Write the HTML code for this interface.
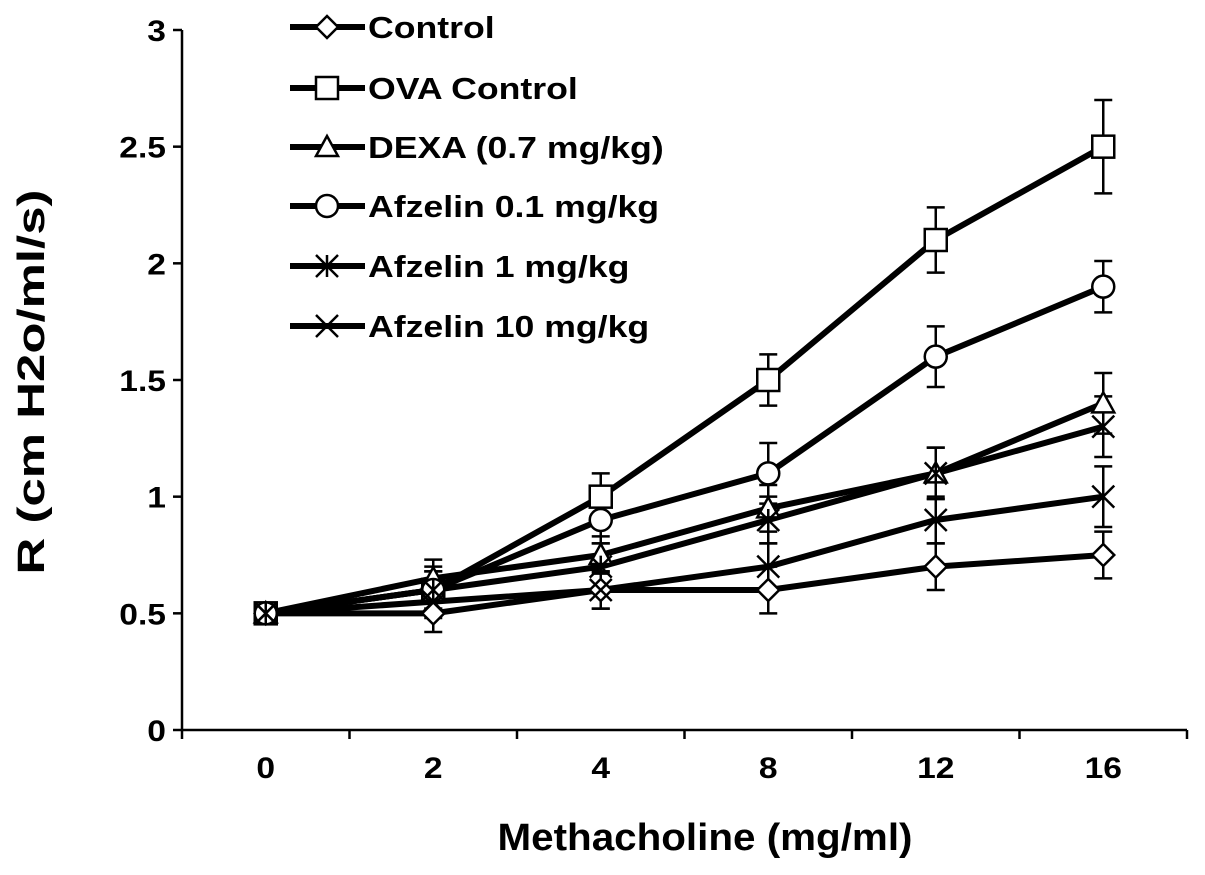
<!DOCTYPE html>
<html><head><meta charset="utf-8"><style>
html,body{margin:0;padding:0;background:#fff}
svg{display:block;font-family:"Liberation Sans",Arial,sans-serif;font-weight:bold}
</style></head><body>
<svg id="chart" width="1205" height="875" viewBox="0 0 1205 875">
<g id="axes"></g><g id="series"></g><g id="legend"></g>
<text x="705" y="850" font-size="38" text-anchor="middle" textLength="415" lengthAdjust="spacingAndGlyphs">Methacholine (mg/ml)</text>
<text transform="translate(44,382) rotate(-90)" font-size="38" text-anchor="middle" textLength="385" lengthAdjust="spacingAndGlyphs">R (cm H2o/ml/s)</text>
</svg>
<script>
const categories = ["0","2","4","8","12","16"];
const yTicks = [0,0.5,1,1.5,2,2.5,3];
const yTickLabels = ["0","0.5","1","1.5","2","2.5","3"];
const seriesNames = ["Control","OVA Control","DEXA (0.7 mg/kg)","Afzelin 0.1 mg/kg","Afzelin 1 mg/kg","Afzelin 10 mg/kg"];
const seriesMarkers = ["diamond","square","triangle","circle","star","cross"];
const controlVals = [0.5,0.5,0.6,0.6,0.7,0.75];
const ovaVals = [0.5,0.6,1.0,1.5,2.1,2.5];
const dexaVals = [0.5,0.65,0.75,0.95,1.1,1.4];
const afz01Vals = [0.5,0.6,0.9,1.1,1.6,1.9];
const afz1Vals = [0.5,0.6,0.7,0.9,1.1,1.3];
const afz10Vals = [0.5,0.55,0.6,0.7,0.9,1.0];
const controlErr = [0,0.08,0.08,0.1,0.1,0.1];
const ovaErr = [0,0.1,0.1,0.11,0.14,0.2];
const dexaErr = [0,0.08,0.08,0.1,0.11,0.13];
const afz01Err = [0,0.08,0.1,0.13,0.13,0.11];
const afz1Err = [0,0.08,0.1,0.1,0.11,0.13];
const afz10Err = [0,0.07,0.08,0.1,0.1,0.13];
const allVals=[controlVals,ovaVals,dexaVals,afz01Vals,afz1Vals,afz10Vals];
const allErr=[controlErr,ovaErr,dexaErr,afz01Err,afz1Err,afz10Err];
const NS="http://www.w3.org/2000/svg";
const X0=182,X1=1187,Y0=730,Y3=30;
const band=(X1-X0)/categories.length;
function xs(i){return X0+band*(i+0.5);}
function ys(v){return Y0-(v/3)*(Y0-Y3);}
function mk(tag,attrs,parent){const e=document.createElementNS(NS,tag);for(const k in attrs)e.setAttribute(k,attrs[k]);parent.appendChild(e);return e;}
const axes=document.getElementById('axes');
let e=mk('line',{x1:X0,y1:Y3,x2:X0,y2:Y0,stroke:'#000','stroke-width':2.5},axes);


e=mk('line',{x1:X0,y1:Y0,x2:X1,y2:Y0,stroke:'#000','stroke-width':2.5},axes);


yTicks.forEach((t,i)=>{
 mk('line',{x1:X0-9,y1:ys(t),x2:X0,y2:ys(t),stroke:'#000','stroke-width':2.5},axes);
 const tx=mk('text',{transform:`translate(${X0-16},${ys(t)+11}) scale(1.12,1)`,'font-size':30,'text-anchor':'end'},axes);
 tx.textContent=yTickLabels[i];
 
 
});
for(let i=0;i<=categories.length;i++){mk('line',{x1:X0+band*i,y1:Y0,x2:X0+band*i,y2:Y0+9,stroke:'#000','stroke-width':2.5},axes);}
categories.forEach((c,i)=>{
 const tx=mk('text',{transform:`translate(${xs(i)},${Y0+48}) scale(1.12,1)`,'font-size':30,'text-anchor':'middle'},axes);
 tx.textContent=c;
 
 
});
function marker(type,cx,cy,parent){
 const s=11,a={fill:'#fff',stroke:'#000','stroke-width':2.5};
 let m;
 if(type==='diamond')m=mk('polygon',Object.assign({points:`${cx},${cy-s} ${cx+s},${cy} ${cx},${cy+s} ${cx-s},${cy}`},a),parent);
 else if(type==='square')m=mk('rect',Object.assign({x:cx-s,y:cy-s,width:2*s,height:2*s},a),parent);
 else if(type==='triangle')m=mk('polygon',Object.assign({points:`${cx},${cy-s} ${cx+s},${cy+s-2} ${cx-s},${cy+s-2}`},a),parent);
 else if(type==='circle')m=mk('circle',Object.assign({cx:cx,cy:cy,r:s},a),parent);
 else {
  m=mk('g',{},parent);
  mk('line',{x1:cx-s,y1:cy-s,x2:cx+s,y2:cy+s,stroke:'#000','stroke-width':2.5},m);
  mk('line',{x1:cx-s,y1:cy+s,x2:cx+s,y2:cy-s,stroke:'#000','stroke-width':2.5},m);
  if(type==='star')mk('line',{x1:cx,y1:cy-s,x2:cx,y2:cy+s,stroke:'#000','stroke-width':2.5},m);
 }
 
 
}
const sg=document.getElementById('series');
allVals.forEach((vals,si)=>{
 const g=mk('g',{},sg);
 
 
 allErr[si].forEach((er,i)=>{
  if(er<=0)return;
  const x=xs(i);
  mk('line',{x1:x,y1:ys(vals[i]-er),x2:x,y2:ys(vals[i]+er),stroke:'#000','stroke-width':2.5},g);
  mk('line',{x1:x-9,y1:ys(vals[i]+er),x2:x+9,y2:ys(vals[i]+er),stroke:'#000','stroke-width':2.5},g);
  mk('line',{x1:x-9,y1:ys(vals[i]-er),x2:x+9,y2:ys(vals[i]-er),stroke:'#000','stroke-width':2.5},g);
 });
 const l=mk('polyline',{points:vals.map((v,i)=>xs(i)+','+ys(v)).join(' '),fill:'none',stroke:'#000','stroke-width':6},g);
 
 
});
allVals.forEach((vals,si)=>{vals.forEach((v,i)=>marker(seriesMarkers[si],xs(i),ys(v),sg));});
const lg=document.getElementById('legend');
const legY=[27,88,147,206,266,326];
seriesNames.forEach((n,i)=>{
 const g=mk('g',{},lg);
 
 
 mk('line',{x1:290,y1:legY[i],x2:365,y2:legY[i],stroke:'#000','stroke-width':6},g);
 marker(seriesMarkers[i],327,legY[i],g);
 const t=mk('text',{transform:`translate(368,${legY[i]+11}) scale(1.15,1)`,'font-size':31},g);
 t.textContent=n;
});
</script>
</body></html>
